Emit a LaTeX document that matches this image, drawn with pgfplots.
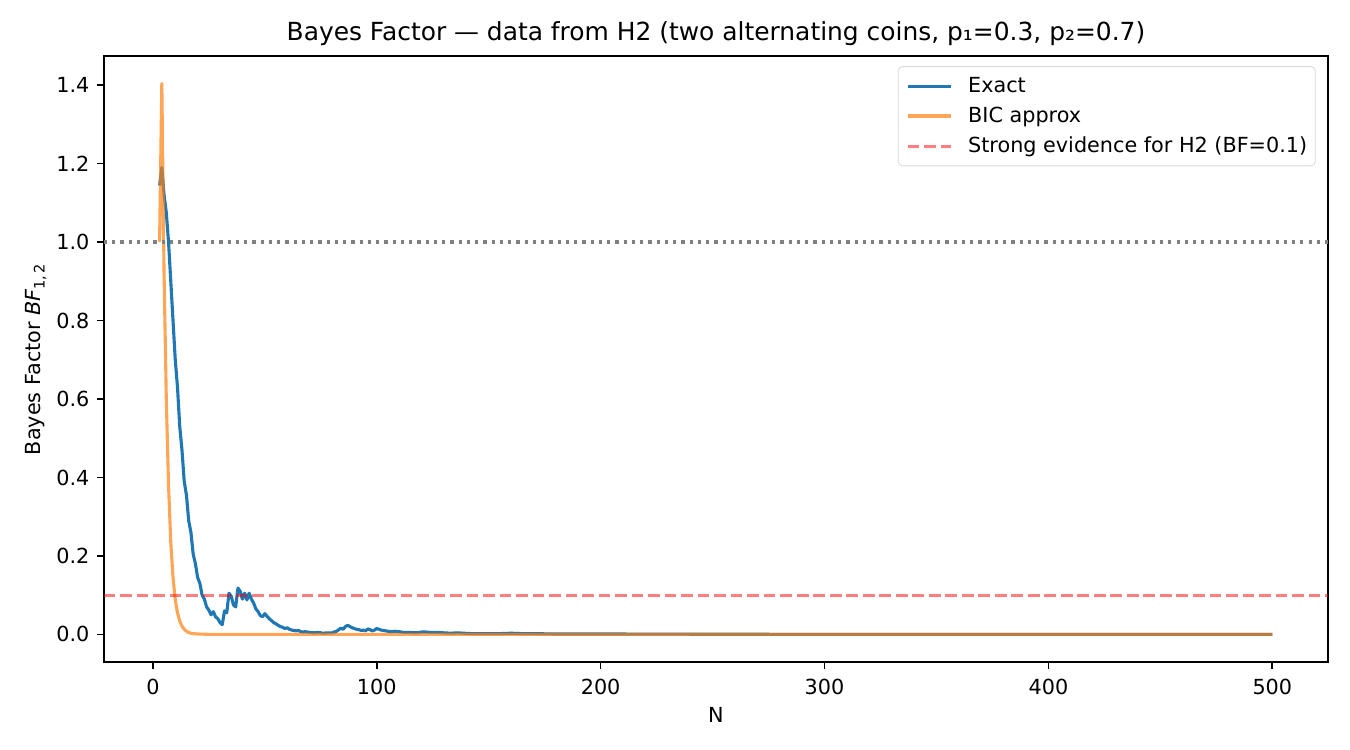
\documentclass[border=0pt]{standalone}
\usepackage{pgfplots}
\pgfplotsset{compat=1.18}
\usepackage{fontspec}
\setmainfont{DejaVu Sans}
\definecolor{mplblue}{HTML}{1F77B4}
\definecolor{mplorange}{HTML}{FF7F0E}
\begin{document}
\begin{tikzpicture}
\path[use as bounding box] (-0.693in,-0.587in) rectangle (8.307in,4.413in);
\begin{axis}[
  scale only axis,
  width=8.16in, height=4.04in,
  xmin=-21.85, xmax=524.85,
  ymin=-0.0702, ymax=1.4742,
  xtick={0,100,200,300,400,500},
  ytick={0,0.2,0.4,0.6,0.8,1.0,1.2,1.4},
  yticklabel style={/pgf/number format/.cd,fixed,fixed zerofill,precision=1},
  /pgf/number format/assume math mode=true,
  tick align=outside,
  tick pos=left,
  major tick length=3.5pt,
  every tick/.style={line width=0.8pt,black},
  axis line style={line width=0.8pt},
  ticklabel style={font=\fontsize{10}{12}\selectfont},
  xticklabel style={yshift=-1pt},
  xlabel={N},
  ylabel={Bayes Factor {\itshape BF}\textsubscript{1,\,2}},
  label style={font=\fontsize{10}{12}\selectfont},
  xlabel style={yshift=0.5pt},
  ylabel style={yshift=-2pt},
  title={Bayes Factor — data from H2 (two alternating coins, p₁=0.3, p₂=0.7)},
  title style={font=\fontsize{12}{14}\selectfont, yshift=-4.5pt},
  legend style={at={(0.990,0.983)}, anchor=north east, draw=black!15, rounded corners=2pt,
    font=\fontsize{10}{12}\selectfont, row sep=1.5pt, inner xsep=3.9pt, inner ysep=3pt,
    nodes={inner xsep=0pt}},
  legend cell align=left,
  legend image code/.code={\draw[#1] (0pt,0pt) -- (20.6pt,0pt); \path (28.3pt,0pt);},
]
\addplot[mplblue, line width=1.5pt, line join=round] coordinates {
(3,1.144)(4,1.19)(5,1.12)(6,1.075)(7,1.0)(8,0.9)(9,0.80)(10,0.70)(11,0.63)(12,0.53)
(13,0.47)(14,0.39)(15,0.355)(16,0.29)(17,0.26)(18,0.205)(19,0.18)(20,0.145)(21,0.13)(22,0.10)
(23,0.09)(24,0.07)(25,0.062)(26,0.05)(27,0.058)(28,0.045)(29,0.04)(30,0.03)(31,0.025)(32,0.06)
(33,0.055)(34,0.105)(35,0.097)(36,0.075)(37,0.07)(38,0.118)(39,0.11)(40,0.09)(41,0.105)(42,0.088)
(43,0.105)(44,0.09)(45,0.08)(46,0.065)(47,0.058)(48,0.048)(49,0.045)(50,0.053)(51,0.046)(52,0.04)
(53,0.035)(54,0.03)(55,0.027)(56,0.023)(57,0.02)(58,0.018)(59,0.015)(60,0.017)(61,0.013)(62,0.011)
(63,0.01)(64,0.009)(65,0.01)(66,0.007)(67,0.006)(68,0.007)(70,0.005)(72,0.004)(74,0.005)(76,0.003)
(78,0.004)(80,0.004)(82,0.008)(83,0.012)(84,0.016)(85,0.013)(86,0.02)(87,0.023)(88,0.02)(89,0.017)
(90,0.015)(91,0.013)(92,0.012)(93,0.01)(94,0.011)(95,0.009)(96,0.014)(97,0.012)(98,0.009)(99,0.011)
(100,0.015)(101,0.013)(102,0.011)(104,0.009)(106,0.007)(108,0.008)(110,0.007)(112,0.005)(115,0.005)
(118,0.004)(120,0.006)(122,0.006)(124,0.005)(127,0.005)(130,0.004)(133,0.003)(136,0.004)(139,0.003)
(142,0.002)(145,0.002)(150,0.002)(155,0.002)(160,0.003)(165,0.002)(170,0.002)(180,0.001)(200,0.001)
(220,0.0008)(250,0.0004)(300,0.0001)(400,0)(500,0)
};
\addlegendentry{Exact}
\addplot[mplorange, opacity=0.7, line width=1.5pt, line join=round] coordinates {
(3,1.0)(4,1.404)(5,0.92)(6,0.6)(7,0.38)(8,0.235)(9,0.145)(10,0.088)(11,0.055)(12,0.034)
(13,0.021)(14,0.013)(15,0.008)(16,0.005)(17,0.003)(18,0.002)(20,0.001)(25,0.0002)(30,0)(500,0)
};
\addlegendentry{BIC approx}
\addplot[red, opacity=0.5, line width=1.5pt, dash pattern=on 5.55pt off 2.4pt] coordinates {(-21.85,0.1)(524.85,0.1)};
\addlegendentry{Strong evidence for H2 (BF=0.1)}
\addplot[gray, line width=1.5pt, dash pattern=on 1.5pt off 2.475pt, forget plot] coordinates {(-21.85,1.0)(524.85,1.0)};
\end{axis}
\end{tikzpicture}
\end{document}
